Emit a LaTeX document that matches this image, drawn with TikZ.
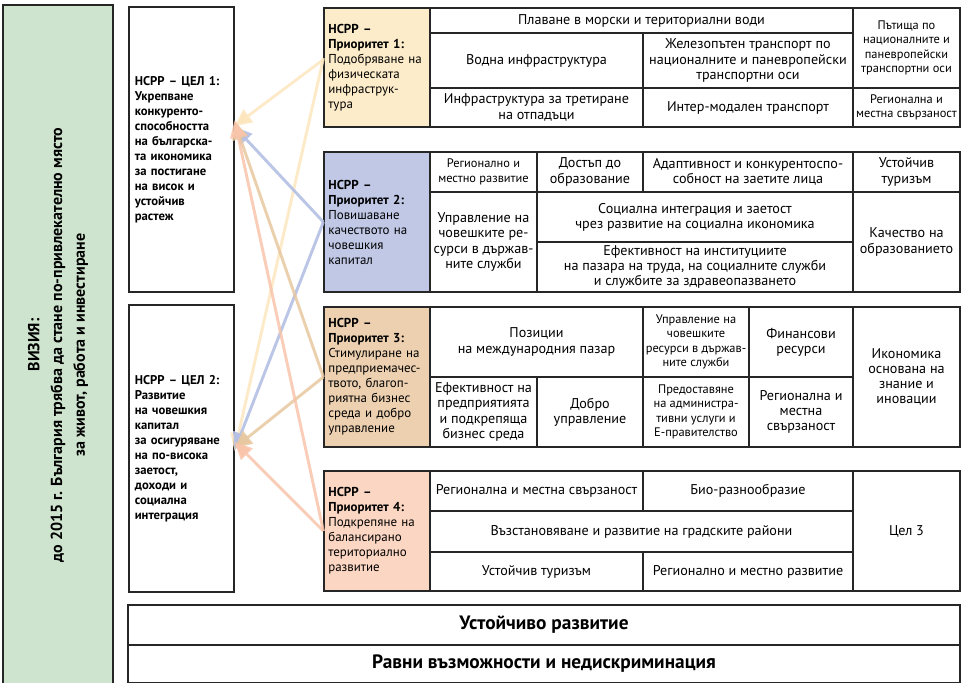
\documentclass[tikz,border=0pt]{standalone}
\usepackage{fontspec}
\setmainfont{PT Sans}
\usetikzlibrary{arrows.meta}

\definecolor{visgreen}{RGB}{206,228,206}
\definecolor{prioone}{RGB}{253,236,202}
\definecolor{priotwo}{RGB}{192,200,230}
\definecolor{priothree}{RGB}{236,208,176}
\definecolor{priofour}{RGB}{251,214,194}
\definecolor{linkone}{RGB}{253,230,190}
\definecolor{linktwo}{RGB}{180,192,228}
\definecolor{linkthree}{RGB}{232,200,160}
\definecolor{linkfour}{RGB}{248,196,170}

\begin{document}
\begin{tikzpicture}[x=0.75pt,y=0.75pt,yscale=-1,xscale=1,
  cell/.style={draw=black!85, line width=0.9pt, inner sep=1pt, align=center, font=\fontsize{10.6}{11.4}\selectfont},
  smallcell/.style={cell, font=\fontsize{9.3}{10.8}\selectfont},
  prio/.style={cell, align=left, text width=73pt, font=\fontsize{9.7}{11.25}\selectfont},
  goal/.style={cell, align=left, text width=70pt, font=\fontsize{9.5}{11.25}\selectfont\bfseries},
  link/.style={line width=2.2pt, -{Triangle[length=13pt,width=12pt]}}]
\useasboundingbox (0,0) rectangle (964,682);
\clip (0,0) rectangle (964,682);

% Vision
\node [cell, fill=visgreen, rotate=90, minimum width=510pt, minimum height=82.5pt, font=\fontsize{12}{17}\selectfont\bfseries] (vis) at (58,345) {ВИЗИЯ:\\до 2015 г. България трябва да стане по-привлекателно място\\за живот, работа и инвестиране};

% Goals
\node [goal, minimum width=78.75pt, minimum height=213.75pt] (g1) at (181.5,149.5) {НСРР – ЦЕЛ 1:\\Укрепване\\конкуренто-\\способността\\на българска-\\та икономика\\за постигане\\на висок и\\устойчив\\растеж};
\node [goal, minimum width=78.75pt, minimum height=215.25pt] (g2) at (181.5,448.5) {НСРР – ЦЕЛ 2:\\Развитие\\на човешкия\\капитал\\за осигуряване\\на по-висока\\заетост,\\доходи и\\социална\\интеграция};

% Priority 1
\node [prio, fill=prioone, minimum width=79.5pt, minimum height=89.25pt] (p1) at (377,67.5) {\textbf{НСРР –}\\\textbf{Приоритет 1:}\\Подобряване на\\физическата\\инфраструк-\\тура};
\node [cell, minimum width=317.25pt, minimum height=18.75pt] (p1a) at (641.5,20.5) {Плаване в морски и териториални води};
\node [cell, minimum width=159.75pt, minimum height=41.25pt] (p1b) at (536.5,60.5) {Водна инфраструктура};
\node [cell, minimum width=157.5pt, minimum height=41.25pt] (p1c) at (748,60.5) {Железопътен транспорт по\\националните и паневропейски\\транспортни оси};
\node [cell, minimum width=159.75pt, minimum height=29.25pt] (p1d) at (536.5,107.5) {Инфраструктура за третиране\\на отпадъци};
\node [cell, minimum width=157.5pt, minimum height=29.25pt] (p1e) at (748,107.5) {Интер-модален транспорт};
\node [smallcell, minimum width=80.25pt, minimum height=60pt] (p1f) at (906.5,48) {Пътища по\\националните и\\паневропейски\\транспортни оси};
\node [smallcell, minimum width=80.25pt, minimum height=29.25pt] (p1g) at (906.5,107.5) {Регионална и\\местна свързаност};

% Priority 2
\node [prio, fill=priotwo, minimum width=79.5pt, minimum height=105pt] (p2) at (377,222) {\textbf{НСРР –}\\\textbf{Приоритет 2:}\\Повишаване\\качеството на\\човешкия\\капитал};
\node [smallcell, minimum width=80.25pt, minimum height=30pt] (p2a) at (483.5,172) {Регионално и\\местно развитие};
\node [cell, minimum width=79.5pt, minimum height=30pt] (p2b) at (590,172) {Достъп до\\образование};
\node [cell, minimum width=157.5pt, minimum height=30pt] (p2c) at (748,172) {Адаптивност и конкурентоспо-\\собност на заетите лица};
\node [cell, minimum width=80.25pt, minimum height=30pt] (p2d) at (906.5,172) {Устойчив\\туризъм};
\node [cell, minimum width=80.25pt, minimum height=75pt] (p2e) at (483.5,242) {Управление на\\човешките ре-\\сурси в държав-\\ните служби};
\node [cell, minimum width=237pt, minimum height=37.5pt] (p2f) at (695,217) {Социална интеграция и заетост\\чрез развитие на социална икономика};
\node [cell, minimum width=237pt, minimum height=37.5pt] (p2g) at (695,267) {Ефективност на институциите\\на пазара на труда, на социалните служби\\и службите за здравеопазването};
\node [cell, minimum width=80.25pt, minimum height=75pt] (p2h) at (906.5,242) {Качество на\\образованието};

% Priority 3
\node [prio, fill=priothree, minimum width=79.5pt, minimum height=105pt] (p3) at (377,377) {\textbf{НСРР –}\\\textbf{Приоритет 3:}\\Стимулиране на\\предприемачес-\\твото, благоп-\\риятна бизнес\\среда и добро\\управление};
\node [cell, minimum width=159.75pt, minimum height=52.5pt] (p3a) at (536.5,342) {Позиции\\на международния пазар};
\node [cell, minimum width=80.25pt, minimum height=52.5pt] (p3b) at (483.5,412) {Ефективност на\\предприятията\\и подкрепяща\\бизнес среда};
\node [cell, minimum width=79.5pt, minimum height=52.5pt] (p3c) at (590,412) {Добро\\управление};
\node [smallcell, minimum width=79.5pt, minimum height=52.5pt] (p3d) at (696,342) {Управление на\\човешките\\ресурси в държав-\\ните служби};
\node [cell, minimum width=78pt, minimum height=52.5pt] (p3e) at (801,342) {Финансови\\ресурси};
\node [smallcell, minimum width=79.5pt, minimum height=52.5pt] (p3f) at (696,412) {Предоставяне\\на администра-\\тивни услуги и\\Е-правителство};
\node [cell, minimum width=78pt, minimum height=52.5pt] (p3g) at (801,412) {Регионална и\\местна\\свързаност};
\node [cell, minimum width=80.25pt, minimum height=105pt] (p3h) at (906.5,377) {Икономика\\основана на\\знание и\\иновации};

% Priority 4
\node [prio, fill=priofour, minimum width=79.5pt, minimum height=90pt] (p4) at (377,531) {\textbf{НСРР –}\\\textbf{Приоритет 4:}\\Подкрепяне на\\балансирано\\териториално\\развитие};
\node [cell, minimum width=159.75pt, minimum height=30pt] (p4a) at (536.5,491) {Регионална и местна свързаност};
\node [cell, minimum width=157.5pt, minimum height=30pt] (p4b) at (748,491) {Био-разнообразие};
\node [cell, minimum width=317.25pt, minimum height=30.75pt] (p4c) at (641.5,531.5) {Възстановяване и развитие на градските райони};
\node [cell, minimum width=159.75pt, minimum height=29.25pt] (p4d) at (536.5,571.5) {Устойчив туризъм};
\node [cell, minimum width=157.5pt, minimum height=29.25pt] (p4e) at (748,571.5) {Регионално и местно развитие};
\node [cell, minimum width=80.25pt, minimum height=90pt] (p4f) at (906.5,531) {Цел 3};

% Horizontal principles
\node [cell, minimum width=624pt, minimum height=30pt, font=\fontsize{14.5}{16}\selectfont\bfseries] (sust) at (544,625) {Устойчиво развитие};
\node [cell, minimum width=624pt, minimum height=28.5pt, font=\fontsize{14.5}{16}\selectfont\bfseries] (equal) at (544,664) {Равни възможности и недискриминация};

% Links from priorities to goals
\draw [link, linkone, draw opacity=0.85] ([yshift=-6pt]p1.west) -- ([yshift=-17.6pt]g1.east);
\draw [link, linkone, draw opacity=0.85] ([yshift=-7pt]p1.west) -- ([yshift=1.9pt]g2.east);
\draw [link, linktwo, draw opacity=0.9] (p2.west) -- ([yshift=-17pt]g1.east);
\draw [link, linktwo, draw opacity=0.9] (p2.west) -- ([yshift=1.1pt]g2.east);
\draw [link, linkthree, draw opacity=0.85] (p3.west) -- ([yshift=-20.6pt]g1.east);
\draw [link, linkthree, draw opacity=0.85] (p3.west) -- ([yshift=-0.4pt]g2.east);
\draw [link, linkfour, draw opacity=0.85] (p4.west) -- ([yshift=-22pt]g1.east);
\draw [link, linkfour, draw opacity=0.85] (p4.west) -- ([yshift=-4.9pt]g2.east);

\end{tikzpicture}
\end{document}
